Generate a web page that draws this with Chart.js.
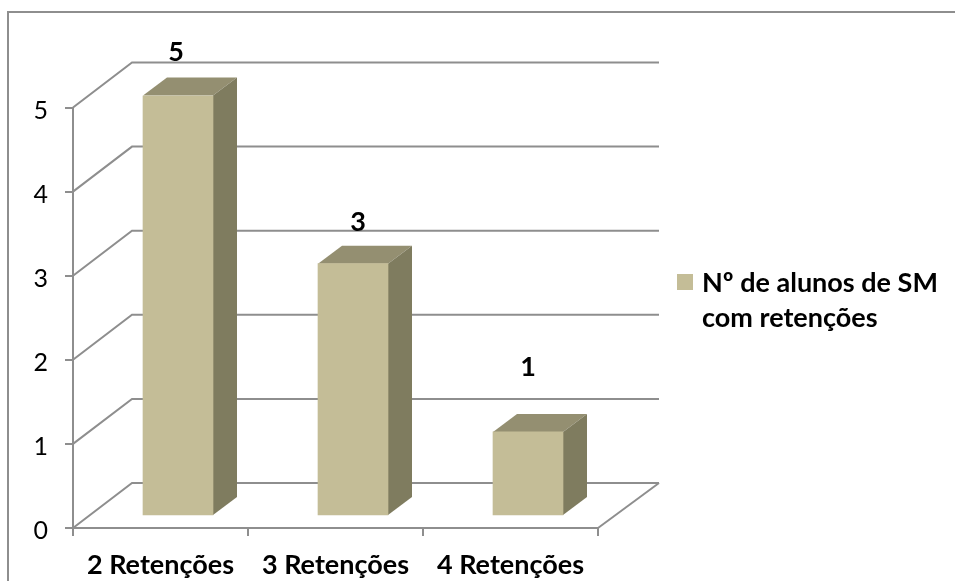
<!DOCTYPE html>
<html>
<head>
<meta charset="utf-8">
<title>Nº de alunos de SM com retenções</title>
<script src="https://cdn.jsdelivr.net/npm/chart.js@4"></script>
<style>
  html, body { margin: 0; padding: 0; background: #fff; overflow: hidden; }
  canvas { display: block; }
</style>
</head>
<body>
<canvas id="chart" width="955" height="581"></canvas>
<script>
// dados do gráfico
const categories = ['2 Retenções', '3 Retenções', '4 Retenções'];
const alunos = [5, 3, 1];
const yTicks = [0, 1, 2, 3, 4, 5];
const seriesName = 'Nº de alunos de SM com retenções';
const legendLines = ['Nº de alunos de SM', 'com retenções'];

const COLORS = {
  front: '#c4bd97',
  top: '#948f71',
  side: '#7f7c5f',
  line: '#8e8e8e',
  text: '#000'
};
const FONT = 'Lato, Carlito, sans-serif';
const BOLD_SIZE = 27;

// profundidade da parede do fundo e das barras
const WALL = { dx: 59, dy: -45, overhang: 2 };
const BAR_DEPTH = { dx: 24, dy: -18 };
const BAR_SHIFT = { dx: 17.5, dy: -12 };
// deslocamento manual dos rótulos de valor
const LABEL_NUDGE = [[-2, -43], [5, -41], [0, -65]];

function segment(ctx, points, color, width) {
  ctx.beginPath();
  points.forEach((p, i) => (i ? ctx.lineTo(p[0], p[1]) : ctx.moveTo(p[0], p[1])));
  ctx.strokeStyle = color;
  ctx.lineWidth = width;
  ctx.stroke();
}

function fillPoly(ctx, points, color) {
  ctx.beginPath();
  points.forEach((p, i) => (i ? ctx.lineTo(p[0], p[1]) : ctx.moveTo(p[0], p[1])));
  ctx.closePath();
  ctx.fillStyle = color;
  ctx.fill();
}

// moldura, paredes e grelha em perspetiva
const wallsPlugin = {
  id: 'walls',
  beforeDraw(chart) {
    const { ctx, scales: { x, y } } = chart;
    ctx.save();
    // a moldura continua para lá da direita e de baixo da tela
    segment(ctx, [[8, 590], [8, 12], [965, 12]], COLORS.line, 2);
    yTicks.forEach(v => {
      const py = y.getPixelForValue(v);
      segment(ctx, [
        [x.left, py],
        [x.left + WALL.dx, py + WALL.dy],
        [x.right + WALL.dx + WALL.overhang, py + WALL.dy]
      ], COLORS.line, 2);
    });
    const base = y.getPixelForValue(0);
    segment(ctx, [
      [x.right, base],
      [x.right + WALL.dx + WALL.overhang, base + WALL.dy]
    ], COLORS.line, 2);
    ctx.restore();
  }
};

// faces laterais e de topo, e barras deslocadas para dentro do chão
const prismPlugin = {
  id: 'prism',
  beforeDatasetDraw(chart) {
    const { ctx } = chart;
    ctx.save();
    ctx.translate(BAR_SHIFT.dx, BAR_SHIFT.dy);
    chart.getDatasetMeta(0).data.forEach(bar => {
      const l = bar.x - bar.width / 2;
      const r = bar.x + bar.width / 2;
      fillPoly(ctx, [[l, bar.y], [l + BAR_DEPTH.dx, bar.y + BAR_DEPTH.dy], [r + BAR_DEPTH.dx, bar.y + BAR_DEPTH.dy], [r, bar.y]], COLORS.top);
      fillPoly(ctx, [[r, bar.y], [r + BAR_DEPTH.dx, bar.y + BAR_DEPTH.dy], [r + BAR_DEPTH.dx, bar.base + BAR_DEPTH.dy], [r, bar.base]], COLORS.side);
    });
  },
  afterDatasetDraw(chart) {
    chart.ctx.restore();
  },
  afterDatasetsDraw(chart) {
    const { ctx } = chart;
    ctx.save();
    ctx.font = 'bold ' + BOLD_SIZE + 'px ' + FONT;
    ctx.fillStyle = COLORS.text;
    ctx.textAlign = 'center';
    ctx.textBaseline = 'middle';
    chart.getDatasetMeta(0).data.forEach((bar, i) => {
      ctx.fillText(String(alunos[i]), bar.x + BAR_SHIFT.dx + LABEL_NUDGE[i][0], bar.y + BAR_SHIFT.dy + LABEL_NUDGE[i][1]);
    });
    ctx.restore();
  }
};

// legenda com o nome da série em duas linhas
const legendPlugin = {
  id: 'wrappedLegend',
  afterDraw(chart) {
    const { ctx } = chart;
    ctx.save();
    ctx.fillStyle = COLORS.front;
    ctx.fillRect(677, 274, 16, 16);
    ctx.font = 'bold ' + BOLD_SIZE + 'px ' + FONT;
    ctx.fillStyle = COLORS.text;
    ctx.textAlign = 'left';
    ctx.textBaseline = 'middle';
    legendLines.forEach((line, i) => ctx.fillText(line, 702, 283 + i * 35));
    ctx.restore();
  }
};

new Chart(document.getElementById('chart'), {
  type: 'bar',
  data: {
    labels: categories,
    datasets: [{
      label: seriesName,
      data: alunos,
      backgroundColor: COLORS.front,
      borderWidth: 0,
      barThickness: 70
    }]
  },
  options: {
    responsive: false,
    animation: false,
    layout: { padding: { top: 107.5, right: 357, left: 0, bottom: 0 } },
    plugins: {
      legend: { display: false },
      tooltip: { enabled: false }
    },
    scales: {
      x: {
        grid: { drawOnChartArea: false, color: COLORS.line, lineWidth: 2, tickLength: 8 },
        border: { color: COLORS.line, width: 2 },
        ticks: { color: COLORS.text, font: { family: FONT, size: BOLD_SIZE, weight: 'bold' }, padding: 13, maxRotation: 0 },
        afterFit(scale) { scale.height = 53; }
      },
      y: {
        min: 0,
        max: 5,
        grid: { drawOnChartArea: false, color: COLORS.line, lineWidth: 2, tickLength: 8 },
        border: { color: COLORS.line, width: 2 },
        ticks: { stepSize: 1, color: COLORS.text, font: { family: FONT, size: 25 }, padding: 17, labelOffset: 3 },
        afterFit(scale) { scale.width = 73; }
      }
    }
  },
  plugins: [wallsPlugin, prismPlugin, legendPlugin]
});
</script>
</body>
</html>
